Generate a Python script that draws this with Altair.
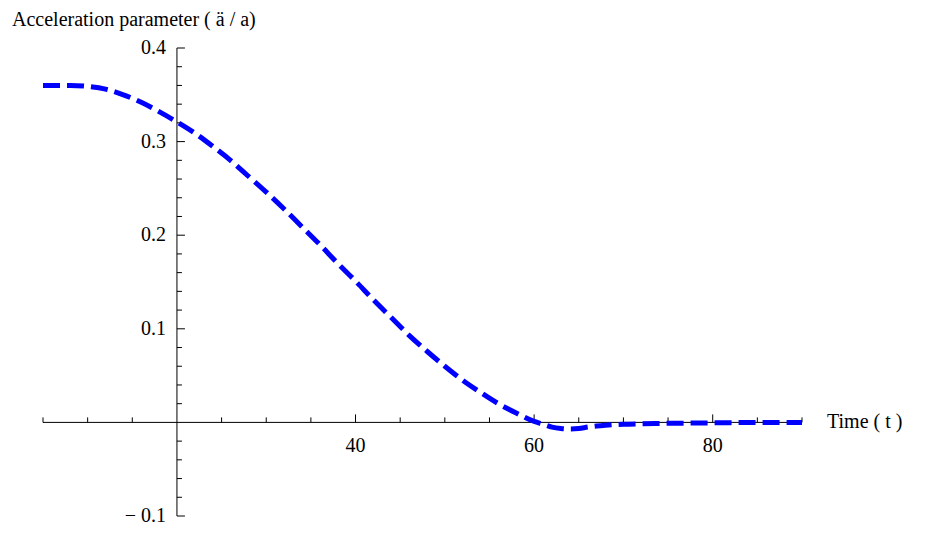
import altair as alt
import pandas as pd

# Curve values
t_vals = [5, 8, 10, 12, 14, 16, 18, 20, 22, 24, 26, 28, 30, 32, 34, 36, 38, 40, 42,
          44, 46, 48, 50, 52, 54, 56, 58, 60, 61, 62, 63, 64, 65, 66, 67, 68, 70,
          72, 75, 80, 85, 90]
a_vals = [0.360, 0.360, 0.359, 0.356, 0.350, 0.342, 0.332, 0.321, 0.309, 0.295,
          0.280, 0.263, 0.246, 0.228, 0.209, 0.190, 0.170, 0.151, 0.131, 0.112,
          0.093, 0.076, 0.060, 0.045, 0.032, 0.020, 0.010, 0.001, -0.002, -0.005,
          -0.0065, -0.007, -0.0065, -0.005, -0.0038, -0.003, -0.002, -0.0015,
          -0.001, -0.0005, 0.0, 0.0]

x_major = [40, 60, 80]
x_major_labels = ["40", "60", "80"]
x_minor = [5, 10, 15, 25, 30, 35, 45, 50, 55, 65, 70, 75, 85, 90]
y_major = [-0.1, 0.1, 0.2, 0.3, 0.4]
y_major_labels = ["\u2212 0.1", "0.1", "0.2", "0.3", "0.4"]
y_minor = [-0.08, -0.06, -0.04, -0.02, 0.02, 0.04, 0.06, 0.08, 0.12, 0.14, 0.16,
           0.18, 0.22, 0.24, 0.26, 0.28, 0.32, 0.34, 0.36, 0.38]

X_MIN, X_MAX = 5, 90
Y_MIN, Y_MAX = -0.1, 0.4
X_ORIGIN, Y_ORIGIN = 20, 0

FONT = "Liberation Serif"
FS = 20

xs = alt.Scale(domain=[X_MIN, X_MAX], nice=False, zero=False)
ys = alt.Scale(domain=[Y_MIN, Y_MAX], nice=False, zero=False)

curve_df = pd.DataFrame({"t": t_vals, "a": a_vals})
xmaj_df = pd.DataFrame({"t": x_major, "label": x_major_labels, "y0": Y_ORIGIN})
xmin_df = pd.DataFrame({"t": x_minor, "y0": Y_ORIGIN})
ymaj_df = pd.DataFrame({"a": y_major, "label": y_major_labels, "x0": X_ORIGIN})
ymin_df = pd.DataFrame({"a": y_minor, "x0": X_ORIGIN})
xline_df = pd.DataFrame({"t": [X_MIN], "t2": [X_MAX], "a": [Y_ORIGIN]})
yline_df = pd.DataFrame({"a": [Y_MIN], "a2": [Y_MAX], "t": [X_ORIGIN]})
xtitle_df = pd.DataFrame({"t": [X_MAX], "a": [Y_ORIGIN], "label": ["Time ( t )"]})
ytitle_df = pd.DataFrame({"label": ["Acceleration parameter ( \u00e4 / a)"]})

X = lambda f: alt.X(f, type="quantitative", scale=xs, axis=None)
Y = lambda f: alt.Y(f, type="quantitative", scale=ys, axis=None)

curve = alt.Chart(curve_df).mark_line(
    color="#0000ff", strokeWidth=5, strokeDash=[17, 7], interpolate="monotone"
).encode(x=X("t"), y=Y("a"))

x_axis_line = alt.Chart(xline_df).mark_rule(color="black", strokeWidth=1).encode(
    x=X("t"), x2="t2:Q", y=Y("a")
)
y_axis_line = alt.Chart(yline_df).mark_rule(color="black", strokeWidth=1).encode(
    y=Y("a"), y2="a2:Q", x=X("t")
)

x_major_ticks = alt.Chart(xmaj_df).mark_rule(color="black", y2Offset=-8).encode(
    x=X("t"), y=Y("y0"), y2="y0:Q"
)
x_minor_ticks = alt.Chart(xmin_df).mark_rule(color="black", y2Offset=-5).encode(
    x=X("t"), y=Y("y0"), y2="y0:Q"
)
y_major_ticks = alt.Chart(ymaj_df).mark_rule(color="black", x2Offset=8).encode(
    y=Y("a"), x=X("x0"), x2="x0:Q"
)
y_minor_ticks = alt.Chart(ymin_df).mark_rule(color="black", x2Offset=5).encode(
    y=Y("a"), x=X("x0"), x2="x0:Q"
)

x_labels = alt.Chart(xmaj_df).mark_text(
    font=FONT, fontSize=FS, color="black", align="center", baseline="alphabetic", dy=30
).encode(x=X("t"), y=Y("y0"), text="label:N")

y_labels = alt.Chart(ymaj_df).mark_text(
    font=FONT, fontSize=FS, color="black", align="right", baseline="middle", dx=-11
).encode(y=Y("a"), x=X("x0"), text="label:N")

x_title = alt.Chart(xtitle_df).mark_text(
    font=FONT, fontSize=FS, color="black", align="left", baseline="middle", dx=25
).encode(x=X("t"), y=Y("a"), text="label:N")

y_title = alt.Chart(ytitle_df).mark_text(
    font=FONT, fontSize=FS, color="black", align="left", baseline="alphabetic"
).encode(x=alt.value(-31), y=alt.value(-22), text="label:N")

chart = alt.layer(
    x_axis_line, y_axis_line, x_major_ticks, x_minor_ticks, y_major_ticks, y_minor_ticks,
    x_labels, y_labels, x_title, y_title, curve
).properties(
    width=759, height=468,
    autosize=alt.AutoSizeParams(type="none"),
    padding={"left": 35, "top": 40, "right": 110, "bottom": 10},
).configure_view(stroke=None)

chart.save("out.html", embed_options={"renderer": "svg", "actions": False})
